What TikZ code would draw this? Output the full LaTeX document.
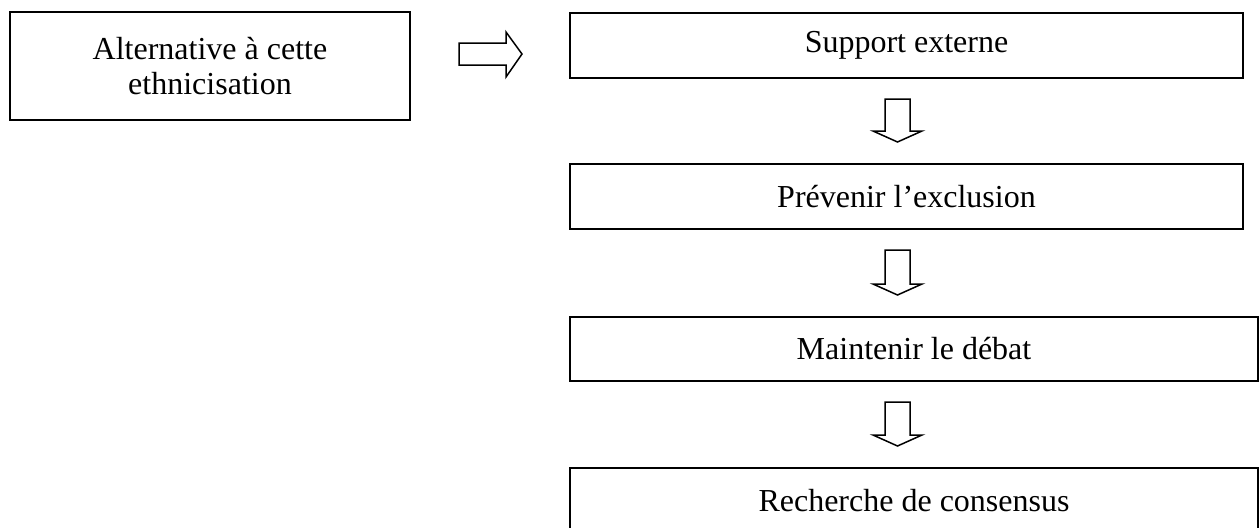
\documentclass[tikz,border=0pt]{standalone}
\usepackage{fontspec}
\setmainfont{Liberation Serif}
\usetikzlibrary{calc}

\tikzset{
  box/.style={draw, line width=1pt, anchor=north west, align=center, inner sep=0pt},
  blockarrow/.style={draw, line width=0.75pt, line join=miter},
}

\begin{document}
\begin{tikzpicture}[x=0.5pt,y=-0.5pt,font=\fontsize{16}{17.5}\selectfont]
  \useasboundingbox (0,0) rectangle (1259,527);
  \clip (0,0) rectangle (1259,527);

  % left box and the chain on the right
  \node[box, minimum width=200pt, minimum height=54pt] (alt) at (9,11) {Alternative à cette\\ethnicisation};
  \node[box, minimum width=336.5pt, minimum height=32.5pt] (sup) at (569,12) {Support externe};
  \node[box, minimum width=336.5pt, minimum height=32.5pt] (prev) at (569,163) {Prévenir l’exclusion};
  \node[box, minimum width=344pt, minimum height=32pt] (maint) at (569,316) {Maintenir le débat};
  \node[box, minimum width=344pt, minimum height=32.5pt] (rech) at (569,467) {Recherche de consensus};

  % hollow arrow to the right
  \draw[blockarrow] let \p1=(alt.east), \p2=(sup.west) in
    (\x1+24pt,-21.5pt) -- (\x2-31.5pt,-21.5pt) -- (\x2-31.5pt,-16pt) -- (\x2-23.5pt,-27pt)
    -- (\x2-31.5pt,-38.5pt) -- (\x2-31.5pt,-32.5pt) -- (\x1+24pt,-32.5pt) -- cycle;

  % hollow arrows down
  \foreach \a/\b in {sup/prev,prev/maint,maint/rech}{
    \draw[blockarrow] let \p1=(\a.south), \p2=(\b.north) in
      (442.5pt,\y1-10pt) -- (455pt,\y1-10pt) -- (455pt,\y2+16pt) -- (461pt,\y2+16pt)
      -- (448.75pt,\y2+10.5pt) -- (436.5pt,\y2+16pt) -- (442.5pt,\y2+16pt) -- cycle;
  }
\end{tikzpicture}
\end{document}
